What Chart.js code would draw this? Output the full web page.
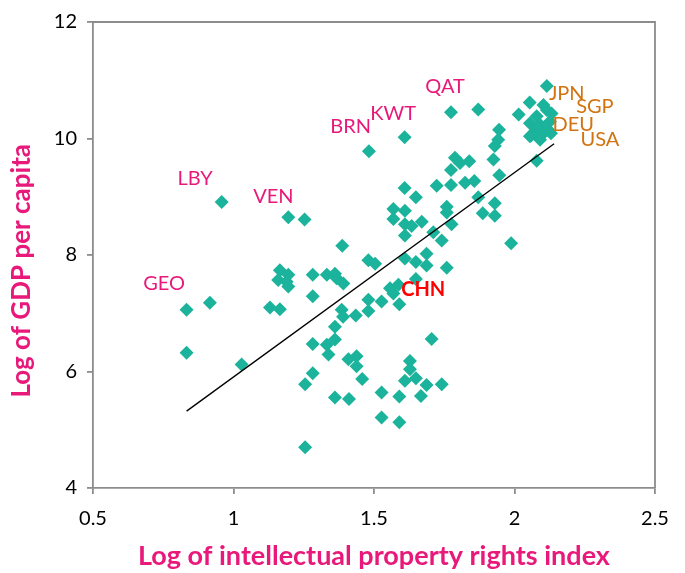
<!DOCTYPE html>
<html>
<head>
<meta charset="utf-8">
<script src="https://cdn.jsdelivr.net/npm/chart.js@4.4.0/dist/chart.umd.min.js"></script>
<style>
  html, body { margin: 0; padding: 0; background: #fff; }
  #wrap { width: 685px; height: 573px; }
</style>
</head>
<body>
<div id="wrap"><canvas id="ipr"></canvas></div>
<script>
// log of IPR index (x) and log of GDP per capita (y)
var iprIdx = [0.958,1.195,1.253,1.482,1.609,1.774,1.871,1.387,
  0.833,0.916,0.833,1.029,
  1.165,1.195,1.159,1.189,1.195,1.130,1.165,1.282,1.282,1.332,1.361,1.367,1.391,
  1.480,1.504,1.480,1.527,1.480,1.557,1.385,1.390,1.435,1.361,1.361,1.332,1.338,
  1.282,1.409,1.438,1.438,1.282,1.255,1.458,1.527,1.361,1.411,1.527,1.255,
  1.687,1.610,1.649,1.687,1.759,1.649,1.587,1.569,1.590,1.705,1.628,1.628,
  1.610,1.649,1.687,1.741,1.590,1.667,1.590,
  1.569,1.610,1.569,1.610,1.634,1.610,1.670,1.759,1.759,1.776,1.711,1.741,
  1.609,1.649,1.723,1.774,1.824,1.857,1.774,1.788,1.806,1.839,1.871,1.930,
  1.887,1.930,1.988,1.945,1.942,1.930,1.925,1.946,2.079,
  2.115,2.054,2.103,2.015,2.115,2.079,2.055,2.091,2.126,2.073,2.103,2.055,
  2.091,2.120,2.132,2.130,2.079,2.061];
var gdpPc = [8.91,8.65,8.61,9.78,10.02,10.45,10.50,8.16,
  7.06,7.18,6.32,6.12,
  7.74,7.66,7.57,7.54,7.46,7.10,7.07,7.66,7.29,7.66,7.68,7.60,7.51,
  7.91,7.85,7.23,7.20,7.04,7.43,7.06,6.94,6.96,6.77,6.55,6.46,6.29,
  6.47,6.21,6.26,6.09,5.97,5.78,5.87,5.64,5.555,5.53,5.21,4.70,
  8.02,7.94,7.88,7.82,7.78,7.59,7.49,7.34,7.155,6.56,6.18,6.04,
  5.84,5.885,5.77,5.78,5.57,5.58,5.13,
  8.79,8.76,8.62,8.53,8.50,8.335,8.57,8.83,8.73,8.53,8.39,8.25,
  9.15,8.99,9.19,9.20,9.24,9.27,9.46,9.67,9.58,9.61,8.99,8.89,
  8.715,8.675,8.20,10.15,9.98,9.87,9.64,9.37,9.62,
  10.90,10.62,10.575,10.41,10.49,10.38,10.26,10.235,10.29,10.12,10.09,10.04,
  9.98,10.15,10.43,10.09,10.18,10.06];

// fitted line end points
var fitX = [0.833, 2.141];
var fitY = [5.32, 9.91];

// country labels
var tagNames = ['LBY','VEN','BRN','KWT','QAT','GEO','CHN','JPN','SGP','DEU','USA'];
var tagX = [0.863,1.142,1.417,1.568,1.753,0.753,1.675,2.186,2.286,2.209,2.304];
var tagY = [9.31,9.00,10.20,10.43,10.90,7.51,7.40,10.775,10.548,10.235,9.98];
var tagColor = ['#E8197A','#E8197A','#E8197A','#E8197A','#E8197A','#E8197A','#FF0000',
  '#D2730F','#D2730F','#D2730F','#D2730F'];

var pts = [];
for (var i = 0; i < iprIdx.length; i++) pts.push({x: iprIdx[i], y: gdpPc[i]});
var line = [];
for (var j = 0; j < fitX.length; j++) line.push({x: fitX[j], y: fitY[j]});

var fontFam = "Lato, 'Open Sans', sans-serif";
var axisGray = '#8c8c8c';

var tagPlugin = {
  id: 'tags',
  afterDatasetsDraw: function(chart) {
    var c = chart.ctx, sx = chart.scales.x, sy = chart.scales.y;
    c.save();
    c.textAlign = 'center';
    c.textBaseline = 'middle';
    for (var k = 0; k < tagNames.length; k++) {
      c.font = (tagNames[k] == 'CHN' ? 'bold ' : '') + '20px ' + fontFam;
      c.fillStyle = tagColor[k];
      c.fillText(tagNames[k], sx.getPixelForValue(tagX[k]), sy.getPixelForValue(tagY[k]));
    }
    c.restore();
  }
};

var framePlugin = {
  id: 'frame',
  beforeDatasetsDraw: function(chart) {
    var a = chart.chartArea, c = chart.ctx;
    c.save();
    c.strokeStyle = axisGray;
    c.lineWidth = 1.8;
    c.beginPath();
    c.moveTo(a.left, a.top);
    c.lineTo(a.right, a.top);
    c.lineTo(a.right, a.bottom);
    c.stroke();
    c.restore();
  }
};

var ctx = document.getElementById('ipr').getContext('2d');
var chart = new Chart(ctx, {
  type: 'scatter',
  data: {
    datasets: [{
      label: 'countries',
      data: pts,
      pointStyle: 'rectRot',
      pointRadius: 7,
      pointBorderWidth: 0,
      backgroundColor: '#1BB39B',
      borderColor: '#1BB39B',
      order: 2
    }, {
      type: 'line',
      label: 'fit',
      data: line,
      borderColor: '#000',
      borderWidth: 1.3,
      pointRadius: 0,
      fill: false,
      order: 1
    }]
  },
  options: {
    responsive: true,
    maintainAspectRatio: false,
    animation: false,
    layout: { padding: { top: 18, right: 30 } },
    plugins: { legend: { display: false }, tooltip: { enabled: false } },
    scales: {
      x: {
        type: 'linear',
        min: 0.5, max: 2.5,
        afterFit: function(s) { s.height = 85; },
        ticks: { stepSize: 0.5, padding: 13, color: '#000', font: { family: fontFam, size: 20 },
          callback: function(v) { return String(v); } },
        grid: { drawOnChartArea: false, tickLength: 6, color: axisGray, lineWidth: 1.8 },
        border: { color: axisGray, width: 1.8 },
        title: { display: true, text: 'Log of intellectual property rights index', color: '#E8197A',
          font: { family: fontFam, size: 27, weight: 'bold' }, padding: { bottom: 1 } }
      },
      y: {
        min: 4, max: 12,
        afterFit: function(s) { s.width = 93; },
        ticks: { stepSize: 2, padding: 10, color: '#000', font: { family: fontFam, size: 20 } },
        grid: { drawOnChartArea: false, tickLength: 6, color: axisGray, lineWidth: 1.8 },
        border: { color: axisGray, width: 1.8 },
        // trailing spaces push the title up a bit, like the original
        title: { display: true, text: 'Log of GDP per capita     ', color: '#E8197A',
          font: { family: fontFam, size: 26, weight: 'bold' }, padding: { top: 6 } }
      }
    }
  },
  plugins: [tagPlugin, framePlugin]
});
</script>
</body>
</html>
